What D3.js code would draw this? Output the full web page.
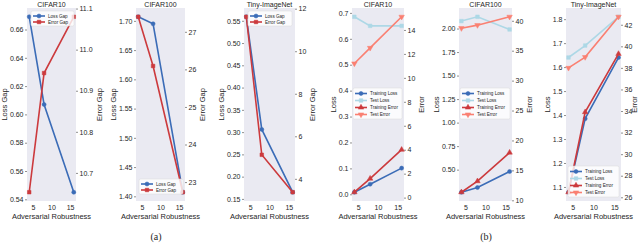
<!DOCTYPE html>
<html>
<head>
<meta charset="utf-8">
<script src="https://cdn.jsdelivr.net/npm/d3@7"></script>
<style>
  body { margin: 0; background: #fff; }
  svg text { font-family: "Liberation Sans", Arial, sans-serif; fill: #262626; }
</style>
</head>
<body>
<svg id="chart" width="640" height="245"></svg>
<script>
// ---- data ----
const robustness = [4, 8, 16];
const xTicks = [5, 10, 15];

// (a) generalization gaps
const cifar10LossGap = [0.669, 0.607, 0.545];
const cifar10ErrorGap = [10.653, 10.943, 11.08];
const cifar100LossGap = [1.707, 1.695, 1.407];
const cifar100ErrorGap = [27.40, 26.09, 22.73];
const tinyLossGap = [0.559, 0.306, 0.165];
const tinyErrorGap = [11.62, 5.13, 3.37];

// (b) train / test loss and error
const cifar10TrainLoss = [0.008, 0.039, 0.101];
const cifar10TestLoss = [0.685, 0.65, 0.65];
const cifar10TrainError = [0.45, 1.59, 4.0];
const cifar10TestError = [11.2, 12.5, 15.1];
const cifar100TrainLoss = [0.26, 0.31, 0.48];
const cifar100TestLoss = [2.079, 2.125, 1.99];
const cifar100TrainError = [11.35, 13.2, 17.98];
const cifar100TestError = [38.76, 39.27, 40.67];
const tinyTrainLoss = [1.078, 1.385, 1.64];
const tinyTestLoss = [1.64, 1.69, 1.81];
const tinyTrainError = [26.47, 33.9, 39.3];
const tinyTestError = [38.0, 39.0, 42.74];

// tick labels
const cifar10GapLossTicks = [0.54, 0.56, 0.58, 0.60, 0.62, 0.64, 0.66];
const cifar10GapErrorTicks = [10.7, 10.8, 10.9, 11.0, 11.1];
const cifar100GapLossTicks = [1.40, 1.45, 1.50, 1.55, 1.60, 1.65, 1.70];
const cifar100GapErrorTicks = [23, 24, 25, 26, 27];
const tinyGapLossTicks = [0.15, 0.20, 0.25, 0.30, 0.35, 0.40, 0.45, 0.50, 0.55];
const tinyGapErrorTicks = [4, 6, 8, 10, 12];
const cifar10LossTicks = [0.0, 0.1, 0.2, 0.3, 0.4, 0.5, 0.6, 0.7];
const cifar10ErrorTicks = [0, 2, 4, 6, 8, 10, 12, 14];
const cifar100LossTicks = [0.50, 0.75, 1.00, 1.25, 1.50, 1.75, 2.00];
const cifar100ErrorTicks = [10, 15, 20, 25, 30, 35, 40];
const tinyLossTicks = [1.1, 1.2, 1.3, 1.4, 1.5, 1.6, 1.7, 1.8];
const tinyErrorTicks = [26, 28, 30, 32, 34, 36, 38, 40, 42];

// ---- styles ----
const BLUE = '#3b6cb7', RED = '#cc3a3d', LIGHTBLUE = '#add8e6', SALMON = '#fa8072';
const TOP = 8, BOTTOM = 201;

const panels = [
  { title: 'CIFAR10', x0: 27, x1: 76, yLabel: 'Loss Gap', y2Label: 'Error Gap',
    leftFmt: '.2f', rightFmt: '.1f', leftTicks: cifar10GapLossTicks, rightTicks: cifar10GapErrorTicks,
    left: [{ name: 'Loss Gap', values: cifar10LossGap, color: BLUE, marker: 'circle' }],
    right: [{ name: 'Error Gap', values: cifar10ErrorGap, color: RED, marker: 'square' }],
    legend: { x: 31, y: 11, w: 43 } },
  { title: 'CIFAR100', x0: 136, x1: 185, yLabel: 'Loss Gap', y2Label: 'Error Gap',
    leftFmt: '.2f', rightFmt: 'd', leftTicks: cifar100GapLossTicks, rightTicks: cifar100GapErrorTicks,
    left: [{ name: 'Loss Gap', values: cifar100LossGap, color: BLUE, marker: 'circle' }],
    right: [{ name: 'Error Gap', values: cifar100ErrorGap, color: RED, marker: 'square' }],
    legend: { x: 139, y: 179, w: 44 } },
  { title: 'Tiny-ImageNet', x0: 244, x1: 295, yLabel: 'Loss Gap', y2Label: 'Error Gap',
    leftFmt: '.2f', rightFmt: 'd', leftTicks: tinyGapLossTicks, rightTicks: tinyGapErrorTicks,
    left: [{ name: 'Loss Gap', values: tinyLossGap, color: BLUE, marker: 'circle' }],
    right: [{ name: 'Error Gap', values: tinyErrorGap, color: RED, marker: 'square' }],
    legend: { x: 248, y: 11, w: 44 } },
  { title: 'CIFAR10', x0: 352, x1: 404, yLabel: 'Loss', y2Label: 'Error',
    leftFmt: '.1f', rightFmt: 'd', leftTicks: cifar10LossTicks, rightTicks: cifar10ErrorTicks,
    left: [{ name: 'Training Loss', values: cifar10TrainLoss, color: BLUE, marker: 'circle' },
           { name: 'Test Loss', values: cifar10TestLoss, color: LIGHTBLUE, marker: 'square' }],
    right: [{ name: 'Training Error', values: cifar10TrainError, color: RED, marker: 'tri-up' },
            { name: 'Test Error', values: cifar10TestError, color: SALMON, marker: 'tri-down' }],
    legend: { x: 353, y: 88, w: 49 } },
  { title: 'CIFAR100', x0: 459, x1: 512, yLabel: 'Loss', y2Label: 'Error',
    leftFmt: '.2f', rightFmt: 'd', leftTicks: cifar100LossTicks, rightTicks: cifar100ErrorTicks,
    left: [{ name: 'Training Loss', values: cifar100TrainLoss, color: BLUE, marker: 'circle' },
           { name: 'Test Loss', values: cifar100TestLoss, color: LIGHTBLUE, marker: 'square' }],
    right: [{ name: 'Training Error', values: cifar100TrainError, color: RED, marker: 'tri-up' },
            { name: 'Test Error', values: cifar100TestError, color: SALMON, marker: 'tri-down' }],
    legend: { x: 460, y: 88, w: 50 } },
  { title: 'Tiny-ImageNet', x0: 566, x1: 621, yLabel: 'Loss', y2Label: 'Error',
    leftFmt: '.1f', rightFmt: 'd', leftTicks: tinyLossTicks, rightTicks: tinyErrorTicks,
    left: [{ name: 'Training Loss', values: tinyTrainLoss, color: BLUE, marker: 'circle' },
           { name: 'Test Loss', values: tinyTestLoss, color: LIGHTBLUE, marker: 'square' }],
    right: [{ name: 'Training Error', values: tinyTrainError, color: RED, marker: 'tri-up' },
            { name: 'Test Error', values: tinyTestError, color: SALMON, marker: 'tri-down' }],
    legend: { x: 568, y: 166, w: 51 } }
];

const captions = [{ text: '(a)', x: 156 }, { text: '(b)', x: 486 }];

const svg = d3.select('#chart');

// matplotlib style autoscale: data extent with 5% margins
function padded(values) {
  const [lo, hi] = d3.extent(values);
  const m = (hi - lo) * 0.05;
  return [lo - m, hi + m];
}

const symbolFor = {
  'circle': d3.symbol(d3.symbolCircle, 13),
  'square': d3.symbol(d3.symbolSquare, 13),
  'tri-up': d3.symbol(d3.symbolTriangle, 13),
  'tri-down': d3.symbol(d3.symbolTriangle, 13)
};

function drawMarker(g, type, color, x, y) {
  g.append('path')
    .attr('d', symbolFor[type]())
    .attr('transform', `translate(${x},${y})` + (type === 'tri-down' ? ' rotate(180)' : ''))
    .attr('fill', color)
    .attr('stroke', color)
    .attr('stroke-width', 0.5);
}

function drawSeries(g, s, x, y) {
  const line = d3.line()
    .x((d, i) => x(robustness[i]))
    .y(d => y(d));
  g.append('path')
    .attr('d', line(s.values))
    .attr('fill', 'none')
    .attr('stroke', s.color)
    .attr('stroke-width', 1.6);
  s.values.forEach((v, i) => drawMarker(g, s.marker, s.color, x(robustness[i]), y(v)));
}

panels.forEach(p => {
  const g = svg.append('g');
  const w = p.x1 - p.x0;

  const x = d3.scaleLinear().domain(padded(robustness)).range([p.x0, p.x1]);
  const yL = d3.scaleLinear()
    .domain(padded(p.left.flatMap(s => s.values))).range([BOTTOM, TOP]);
  const yR = d3.scaleLinear()
    .domain(padded(p.right.flatMap(s => s.values))).range([BOTTOM, TOP]);

  // background
  g.append('rect')
    .attr('x', p.x0).attr('y', TOP)
    .attr('width', w).attr('height', BOTTOM - TOP)
    .attr('fill', '#eaeaf2');

  // title
  g.append('text')
    .attr('x', (p.x0 + p.x1) / 2).attr('y', 6.5)
    .attr('text-anchor', 'middle').attr('font-size', 7)
    .text(p.title);

  // x axis
  const xAxis = g.append('g')
    .attr('transform', `translate(0,${BOTTOM})`)
    .call(d3.axisBottom(x).tickValues(xTicks).tickSize(0).tickPadding(4));
  xAxis.select('.domain').remove();
  xAxis.selectAll('text').attr('font-size', 7).attr('fill', '#262626').attr('font-family', null);

  g.append('text')
    .attr('x', (p.x0 + p.x1) / 2).attr('y', 219)
    .attr('text-anchor', 'middle').attr('font-size', 7.5)
    .text('Adversarial Robustness');

  // left axis
  const leftAxis = g.append('g')
    .attr('transform', `translate(${p.x0},0)`)
    .call(d3.axisLeft(yL).tickValues(p.leftTicks).tickFormat(d3.format(p.leftFmt))
      .tickSize(2).tickPadding(1.5));
  leftAxis.select('.domain').remove();
  leftAxis.selectAll('line').attr('stroke', '#444').attr('stroke-width', 0.6);
  leftAxis.selectAll('text').attr('font-size', 7).attr('fill', '#262626').attr('font-family', null);

  // right axis
  const rightAxis = g.append('g')
    .attr('transform', `translate(${p.x1},0)`)
    .call(d3.axisRight(yR).tickValues(p.rightTicks).tickFormat(d3.format(p.rightFmt))
      .tickSize(2).tickPadding(1.5));
  rightAxis.select('.domain').remove();
  rightAxis.selectAll('line').attr('stroke', '#444').attr('stroke-width', 0.6);
  rightAxis.selectAll('text').attr('font-size', 7).attr('fill', '#262626').attr('font-family', null);

  // axis titles
  const leftW = d3.max(leftAxis.selectAll('text').nodes(), n => n.getComputedTextLength());
  const rightW = d3.max(rightAxis.selectAll('text').nodes(), n => n.getComputedTextLength());
  const midY = (TOP + BOTTOM) / 2;
  g.append('text')
    .attr('transform', `translate(${p.x0 - leftW - 6},${midY}) rotate(-90)`)
    .attr('text-anchor', 'middle').attr('font-size', 7.5)
    .text(p.yLabel);
  g.append('text')
    .attr('transform', `translate(${Math.min(p.x1 + rightW + 12, 637)},${midY}) rotate(-90)`)
    .attr('text-anchor', 'middle').attr('font-size', 7.5)
    .text(p.y2Label);

  // lines
  p.left.forEach(s => drawSeries(g, s, x, yL));
  p.right.forEach(s => drawSeries(g, s, x, yR));

  // legend
  const items = p.left.concat(p.right);
  const rowH = items.length > 2 ? 7 : 6;
  const lg = g.append('g').attr('transform', `translate(${p.legend.x},${p.legend.y})`);
  lg.append('rect')
    .attr('width', p.legend.w).attr('height', items.length * rowH + 3)
    .attr('rx', 1.5)
    .attr('fill', '#fff').attr('fill-opacity', 0.8)
    .attr('stroke', '#d8d8d8').attr('stroke-width', 0.5);
  items.forEach((s, i) => {
    const cy = 2 + rowH * i + rowH / 2;
    lg.append('line')
      .attr('x1', 2).attr('x2', 14).attr('y1', cy).attr('y2', cy)
      .attr('stroke', s.color).attr('stroke-width', 1.6);
    drawMarker(lg, s.marker, s.color, 8, cy);
    lg.append('text')
      .attr('x', 17).attr('y', cy + 1.6)
      .attr('font-size', 4.6)
      .text(s.name);
  });
});

captions.forEach(c => {
  svg.append('text')
    .attr('x', c.x).attr('y', 240)
    .attr('text-anchor', 'middle')
    .attr('font-size', 10)
    .style('font-family', '"Liberation Serif", "Times New Roman", serif')
    .text(c.text);
});
</script>
</body>
</html>
